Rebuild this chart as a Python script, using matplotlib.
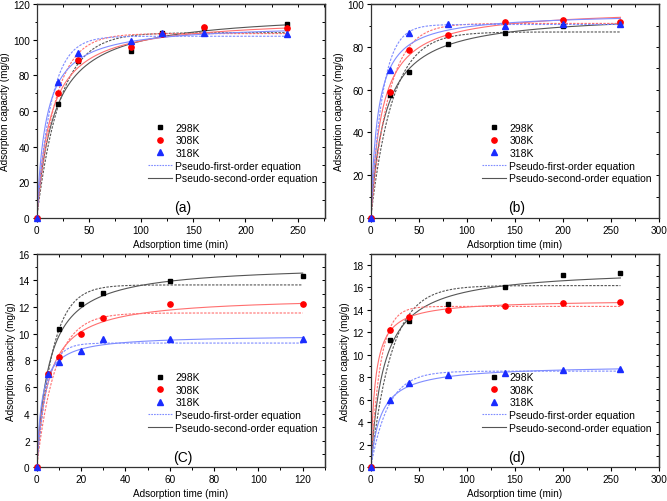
import numpy as np
import matplotlib
matplotlib.use("Agg")
import matplotlib.pyplot as plt
from matplotlib.ticker import MultipleLocator

plt.rcParams["font.family"] = ["Liberation Sans", "DejaVu Sans"]

T_A = [0, 20, 40, 90, 120, 160, 240]
A_298 = [0, 64.1, 88.2, 93.5, 103.7, 106.5, 109.0]
A_308 = [0, 70.1, 88.5, 96.1, 103.5, 107.1, 106.8]
A_318 = [0, 76.3, 92.5, 99.6, 104.0, 103.9, 103.5]

T_B = [0, 20, 40, 80, 140, 200, 260]
B_298 = [0, 57.5, 68.4, 81.3, 86.4, 89.9, 91.0]
B_308 = [0, 58.9, 78.7, 85.7, 91.7, 92.4, 91.7]
B_318 = [0, 69.0, 86.4, 90.7, 89.9, 90.7, 90.7]

T_C = [0, 5, 10, 20, 30, 60, 120]
C_298 = [0, 7.0, 10.32, 12.2, 13.04, 13.94, 14.34]
C_308 = [0, 7.0, 8.28, 10.0, 11.15, 12.2, 12.2]
C_318 = [0, 7.0, 7.88, 8.73, 9.58, 9.58, 9.58]

T_D = [0, 20, 40, 80, 140, 200, 260]
D_298 = [0, 11.35, 13.04, 14.54, 16.02, 17.06, 17.23]
D_308 = [0, 12.18, 13.33, 13.98, 14.37, 14.63, 14.69]
D_318 = [0, 6.0, 7.54, 8.25, 8.39, 8.63, 8.78]

# fitted parameters (298K, 308K, 318K)
PFO_QE = {"a": [104, 103.5, 102], "b": [87, 91, 90.5], "c": [13.65, 11.55, 9.3], "d": [16.15, 14.3, 8.55]}
PFO_K1 = {"a": [0.045, 0.056, 0.072], "b": [0.044, 0.053, 0.082], "c": [0.14, 0.12, 0.22], "d": [0.046, 0.10, 0.055]}
PSO_QE = {"a": [116, 112.5, 109], "b": [96, 98, 96], "c": [15.2, 12.8, 9.9], "d": [17.7, 14.9, 9.1]}
PSO_K2 = {"a": [5.13e-4, 6.73e-4, 1.014e-3], "b": [6.94e-4, 8.87e-4, 1.402e-3],
          "c": [0.0120, 0.01494, 0.04244], "d": [4.185e-3, 0.0145, 0.01057]}

LABELS = ["298K", "308K", "318K"]


def pfo(t, qe, k1):
    return qe * (1 - np.exp(-k1 * t))


def pso(t, qe, k2):
    return k2 * qe ** 2 * t / (1 + k2 * qe * t)


PANELS = [
    ("a", "(a)", T_A, [A_298, A_308, A_318], (0, 276), (0, 120), 50, 25, 20, 10, [0, 50, 100, 150, 200, 250]),
    ("b", "(b)", T_B, [B_298, B_308, B_318], (0, 300), (0, 100), 50, 25, 20, 10, None),
    ("c", "(C)", T_C, [C_298, C_308, C_318], (0, 130), (0, 16), 20, 10, 2, 1, [0, 20, 40, 60, 80, 100, 120]),
    ("d", "(d)", T_D, [D_298, D_308, D_318], (0, 300), (0, 19), 50, 25, 2, 1, None),
]

POSITIONS = [
    [0.055, 0.5637, 0.432, 0.426],
    [0.5558, 0.5637, 0.432, 0.426],
    [0.055, 0.067, 0.432, 0.426],
    [0.5558, 0.067, 0.432, 0.426],
]

marker_colors = ["black", "red", "#1a2cff"]
markers = ["s", "o", "^"]
msizes = [3.4, 3.8, 4.6]
line_colors = ["#555555", "#ff6f6f", "#7f8cff"]

fig = plt.figure(figsize=(6.67, 5.02), dpi=100)
fs = 7.2
legend_fs = 7.5

for pos, (key, tag, t, series, xlim, ylim, xmaj, xmin, ymaj, ymin, xt) in zip(POSITIONS, PANELS):
    ax = fig.add_axes(pos)
    grid = np.linspace(0, t[-1], 400)
    for i in range(3):
        ax.plot(grid, pfo(grid, PFO_QE[key][i], PFO_K1[key][i]), color=line_colors[i],
                lw=0.8, ls=(0, (2.2, 1.2)))
        ax.plot(grid, pso(grid, PSO_QE[key][i], PSO_K2[key][i]), color=line_colors[i], lw=0.8)
    for i in range(3):
        ax.plot(t, series[i], ls="none", marker=markers[i], ms=msizes[i], color=marker_colors[i],
                label=LABELS[i], clip_on=False, zorder=5)
    ax.plot([], [], color="#7f8cff", lw=0.8, ls=(0, (1.5, 1)), label="Pseudo-first-order equation")
    ax.plot([], [], color="#555555", lw=0.8, label="Pseudo-second-order equation")

    ax.set_xlim(*xlim)
    ax.set_ylim(*ylim)
    ax.xaxis.set_major_locator(MultipleLocator(xmaj))
    ax.xaxis.set_minor_locator(MultipleLocator(xmin))
    ax.yaxis.set_major_locator(MultipleLocator(ymaj))
    ax.yaxis.set_minor_locator(MultipleLocator(ymin))
    if xt is not None:
        ax.set_xticks(xt)
    ax.tick_params(which="major", direction="out", length=3, width=0.8, labelsize=fs, pad=2)
    ax.tick_params(which="minor", direction="out", length=1.8, width=0.7)

    top = ax.secondary_xaxis("top")
    top.xaxis.set_major_locator(MultipleLocator(xmin))
    top.tick_params(direction="in", length=2.5, width=0.7, labeltop=False)
    right = ax.secondary_yaxis("right")
    right.yaxis.set_major_locator(MultipleLocator(ymin))
    right.tick_params(direction="in", length=2.5, width=0.7, labelright=False)
    for sp in list(ax.spines.values()) + list(top.spines.values()) + list(right.spines.values()):
        sp.set_linewidth(0.9)
        sp.set_color("#333333")

    ax.set_xlabel("Adsorption time (min)", fontsize=fs, labelpad=3)
    ax.set_ylabel("Adsorption capacity (mg/g)", fontsize=fs, labelpad=2)
    ax.text(0.506, 0.05, tag, transform=ax.transAxes, ha="center", va="center", fontsize=10)
    ax.legend(loc="upper left", bbox_to_anchor=(0.385, 0.445), frameon=False, fontsize=legend_fs,
              numpoints=1, handlelength=2.3, handletextpad=0.35, labelspacing=0.25,
              borderpad=0, borderaxespad=0)

fig.savefig("out.png", dpi=100)
